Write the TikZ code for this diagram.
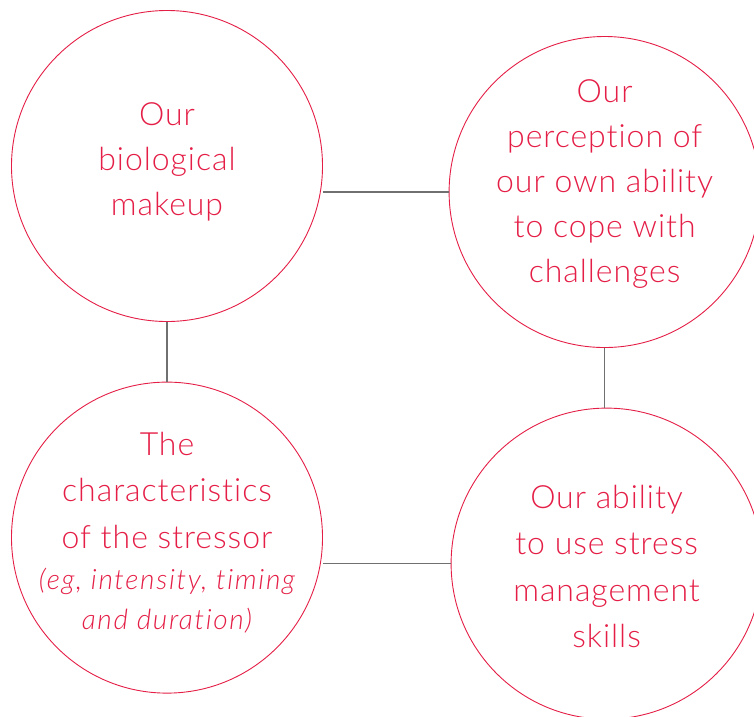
\documentclass[tikz,border=0pt]{standalone}
\usepackage{fontspec}
\setmainfont{Lato}[UprightFont=* Light, ItalicFont=* Light Italic, LetterSpace=3, Ligatures=NoCommon, ItalicFeatures={LetterSpace=6}]
\usetikzlibrary{positioning}
\definecolor{StressRed}{RGB}{228,30,70}
\definecolor{LinkGray}{RGB}{112,112,112}
\tikzstyle{CircleNode}=[circle, draw=StressRed, line width=0.9pt, minimum size=311pt, inner sep=0pt, outer sep=0pt]
\tikzstyle{TextNode}=[align=center, text=StressRed, inner sep=0pt, font=\fontsize{32}{45}\selectfont]
\tikzstyle{LinkLine}=[draw=LinkGray, line width=1.1pt]
\begin{document}
\begin{tikzpicture}[node distance=60.6pt]

    \useasboundingbox (0,0) rectangle (754pt,-716pt);

    \node (BioMakeup) [CircleNode] at (167pt,-166pt) {};
    \node (Perception) [CircleNode, right=126.6pt of BioMakeup, yshift=-26pt] {};
    \node (Stressor) [CircleNode, below=of BioMakeup] {};
    \node (Skills) [CircleNode, below=of Perception, xshift=2pt] {};

    \node (BioText) [TextNode] at ([yshift=4pt]BioMakeup) {Our\\ biological\\ makeup};
    \node (PerceptionText) [TextNode] at ([yshift=8pt]Perception) {Our\\ perception of\\ our own ability\\ to cope with\\ challenges};
    \node (StressorText) [TextNode] at ([yshift=5pt]Stressor)
    {
      The\\[1pt] characteristics\\[2pt] of the stressor\\[-4pt]
      {\fontsize{28}{40}\selectfont\itshape (eg, intensity, timing}\\[-5pt]
      {\fontsize{28}{40}\selectfont\itshape and duration)}
    };
    \node (SkillsText) [TextNode, font=\fontsize{32}{46.5}\selectfont] at ([yshift=-3pt]Skills) {Our ability\\ to use stress\\ management\\ skills};

    \draw [LinkLine] (Perception.west) -- (Perception.west -| BioMakeup.east);
    \draw [LinkLine] (BioMakeup) -- (Stressor);
    \draw [LinkLine] (Perception.south) -- (Perception.south |- Skills.north);
    \draw [LinkLine] (Skills.west) -- (Skills.west -| Stressor.east);

\end{tikzpicture}
\end{document}
